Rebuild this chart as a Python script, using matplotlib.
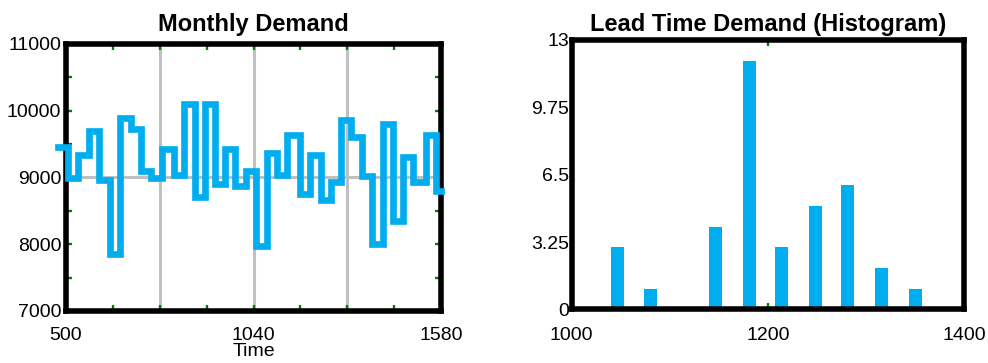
import numpy as np
import matplotlib.pyplot as plt

plt.rcParams['font.family'] = ['Liberation Sans', 'DejaVu Sans']

# monthly demand: start time of each month and the demand held over it
month_start = [478, 507, 536, 566, 595, 626, 655, 687, 716, 745, 776, 810, 839,
               872, 901, 929, 959, 988, 1019, 1048, 1078, 1107, 1137, 1173, 1204,
               1233, 1262, 1293, 1322, 1353, 1382, 1412, 1441, 1471, 1500, 1538, 1566]
month_end = 1580
demand = [9460, 8990, 9340, 9700, 8960, 7860, 9885, 9730, 9090, 8990, 9430, 9030,
          10100, 8715, 10100, 8900, 9430, 8865, 9090, 7980, 9370, 9035, 9635, 8750,
          9335, 8660, 8935, 9860, 9605, 9025, 8005, 9795, 8345, 9300, 8935, 9635, 8805]

# lead time demand histogram
ltd_bins = [1047, 1080, 1113, 1147, 1181, 1214, 1249, 1281, 1316, 1351]
ltd_counts = [3, 1, 0, 4, 12, 3, 5, 6, 2, 1]

blue = '#00ADEE'
tick_green = '#008000'
grid_grey = '#C0C0C0'

fig = plt.figure(figsize=(9.88, 3.63), dpi=100)

# --- monthly demand step plot
ax1 = fig.add_axes([0.0668, 0.1433, 0.3796, 0.7355])
for x in [770, 1040, 1310]:
    ax1.axvline(x, color=grid_grey, lw=2.2, zorder=1)
ax1.axhline(9000, color=grid_grey, lw=2.2, zorder=1)

ax1.step(month_start + [month_end], demand + [demand[-1]], where='post',
         color=blue, lw=4.8, solid_joinstyle='miter', clip_on=False, zorder=3)

ax1.set_xlim(500, 1580)
ax1.set_ylim(7000, 11000)
xt = np.arange(500, 1581, 135)
ax1.set_xticks(xt)
ax1.set_xticklabels([str(v) if v in (500, 1040, 1580) else '' for v in xt])
yt = np.arange(7000, 11001, 500)
ax1.set_yticks(yt)
ax1.set_yticklabels([str(v) if v % 1000 == 0 else '' for v in yt])
ax1.tick_params(direction='in', length=4.5, width=1.7, color=tick_green,
                top=True, right=True, labelsize=14)
ax1.tick_params(axis='x', pad=11.5)
ax1.tick_params(axis='y', pad=3.5)
ax1.set_xlabel('Time', fontsize=14, labelpad=-1)
ax1.set_title('Monthly Demand', fontsize=17, fontweight='bold', pad=9.5)
for s in ax1.spines.values():
    s.set_linewidth(4)

# --- lead time demand histogram
ax2 = fig.add_axes([0.5786, 0.1474, 0.3971, 0.7430])
ax2.bar(ltd_bins, ltd_counts, width=13.3, color=blue, zorder=1)
ax2.set_xlim(1000, 1400)
ax2.set_ylim(0, 13)
ax2.set_xticks([1000, 1200, 1400])
ax2.set_yticks([0, 3.25, 6.5, 9.75, 13])
ax2.set_yticklabels(['0', '3.25', '6.5', '9.75', '13'])
ax2.tick_params(axis='x', direction='in', length=4.5, width=1.7, color=tick_green,
                top=True, labelsize=14, pad=12.5)
ax2.tick_params(axis='y', length=0, labelsize=14, pad=2)
ax2.set_title('Lead Time Demand (Histogram)', fontsize=17, fontweight='bold', pad=6.5)
for s in ax2.spines.values():
    s.set_linewidth(4)

fig.savefig('out.png', dpi=100)
